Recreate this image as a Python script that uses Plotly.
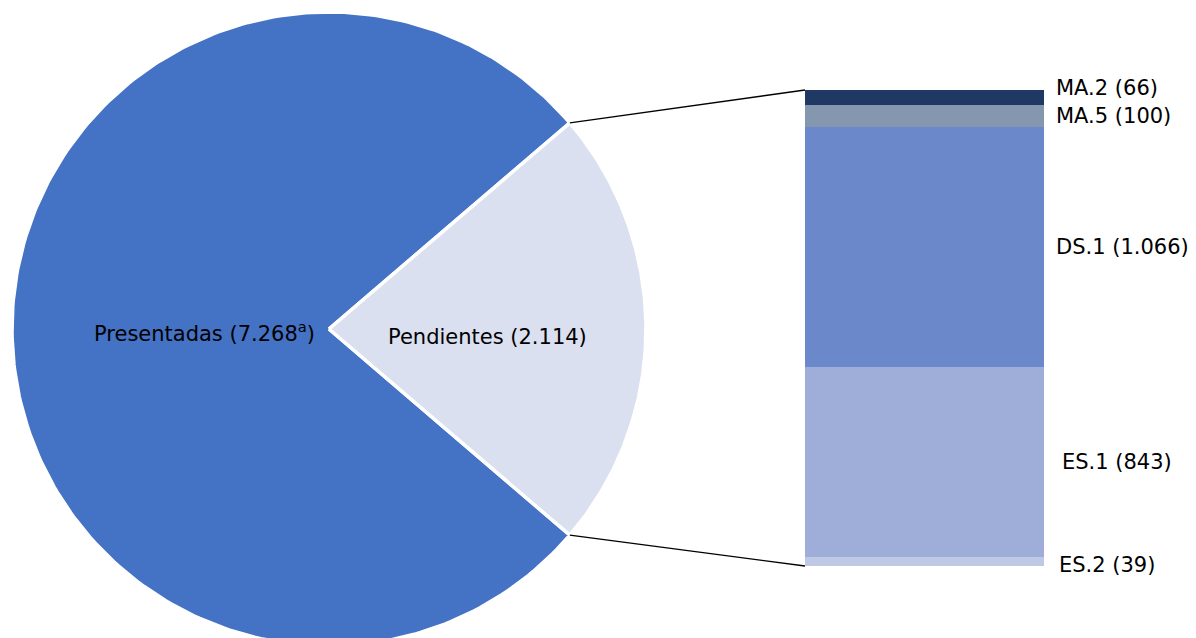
import numpy as np
import plotly.graph_objects as go

# Solicitudes: presentadas vs pendientes
pie_labels = ["Presentadas (7.268<sup>a</sup>)", "Pendientes (2.114)"]
pie_values = [7268, 2114]
pie_colors = ["#4472C4", "#DAE0EF"]

# Desglose de las pendientes (de abajo a arriba)
bar_labels = ["ES.2 (39)", "ES.1 (843)", "DS.1 (1.066)", "MA.5 (100)", "MA.2 (66)"]
bar_values = [39, 843, 1066, 100, 66]
bar_colors = ["#BFC9E6", "#9FAED8", "#6B88CB", "#8497AE", "#203864"]

# Layout geometry (pixels)
W, H = 1196, 638
CX, CY, R = 329, 329, 317
BAR_X0, BAR_X1 = 805, 1044
BAR_TOP, BAR_BOTTOM = 90, 566
FONT = "DejaVu Sans"
FS = 21

fig = go.Figure()

# Pie drawn as filled wedges; the "Pendientes" wedge is centred on the right
total = sum(pie_values)
half = np.pi * pie_values[1] / total


def wedge(a0, a1):
    a = np.linspace(a0, a1, 240)
    xs = np.concatenate([[CX], CX + R * np.cos(a), [CX]])
    ys = np.concatenate([[CY], CY - R * np.sin(a), [CY]])
    return xs, ys


for (a0, a1), color in zip([(half, 2 * np.pi - half), (-half, half)], pie_colors):
    xs, ys = wedge(a0, a1)
    fig.add_trace(go.Scatter(
        x=xs, y=ys, mode='lines', fill='toself', fillcolor=color,
        line=dict(color='white', width=3.5),
        hoverinfo='skip', showlegend=False
    ))

# Connector lines from the wedge edge to the bar corners
ex = CX + R * np.cos(half)
fig.add_trace(go.Scatter(
    x=[ex, BAR_X0], y=[CY - R * np.sin(half), BAR_TOP],
    mode='lines', line=dict(color='black', width=1.3),
    hoverinfo='skip', showlegend=False
))
fig.add_trace(go.Scatter(
    x=[ex, BAR_X0], y=[CY + R * np.sin(half), BAR_BOTTOM],
    mode='lines', line=dict(color='black', width=1.3),
    hoverinfo='skip', showlegend=False
))

# Stacked bar on a second y axis scaled so the stack spans BAR_TOP..BAR_BOTTOM
bar_total = sum(bar_values)
scale = bar_total / (BAR_BOTTOM - BAR_TOP)
y2_range = [-(H - BAR_BOTTOM) * scale, bar_total + BAR_TOP * scale]

for lab, val, col in zip(bar_labels, bar_values, bar_colors):
    fig.add_trace(go.Bar(
        x=[(BAR_X0 + BAR_X1) / 2], y=[val], width=BAR_X1 - BAR_X0,
        marker=dict(color=col, line=dict(width=0)),
        yaxis='y2', name=lab, hoverinfo='name', showlegend=False
    ))

# Bar labels at segment midpoints
label_shift = {"MA.2 (66)": 9, "ES.2 (39)": -3}
label_x = {"ES.1 (843)": 1060, "ES.2 (39)": 1057}
annotations = []
cum = 0
for lab, val in zip(bar_labels, bar_values):
    annotations.append(dict(
        x=label_x.get(lab, 1054), y=cum + val / 2, xref='x', yref='y2',
        text=lab, showarrow=False, xanchor='left', yanchor='middle',
        yshift=label_shift.get(lab, 0),
        font=dict(family=FONT, size=FS, color='black')
    ))
    cum += val

# Pie labels
annotations.append(dict(
    x=204, y=332, xref='x', yref='y', text=pie_labels[0], showarrow=False,
    font=dict(family=FONT, size=FS, color='black')
))
annotations.append(dict(
    x=CX + 0.5 * R, y=337, xref='x', yref='y', text=pie_labels[1], showarrow=False,
    font=dict(family=FONT, size=FS, color='black')
))

fig.update_layout(
    width=W, height=H,
    margin=dict(l=0, r=0, t=0, b=0),
    barmode='stack', bargap=0,
    plot_bgcolor='white', paper_bgcolor='white',
    xaxis=dict(range=[0, W], visible=False, fixedrange=True),
    yaxis=dict(range=[H, 0], visible=False, fixedrange=True),
    yaxis2=dict(range=y2_range, overlaying='y', visible=False, fixedrange=True),
    annotations=annotations,
    font=dict(family=FONT)
)

# remove the default page margin so the figure sits at the window origin
fig.write_html("out.html", config={'displayModeBar': False},
               post_script="document.body.style.margin='0';")
